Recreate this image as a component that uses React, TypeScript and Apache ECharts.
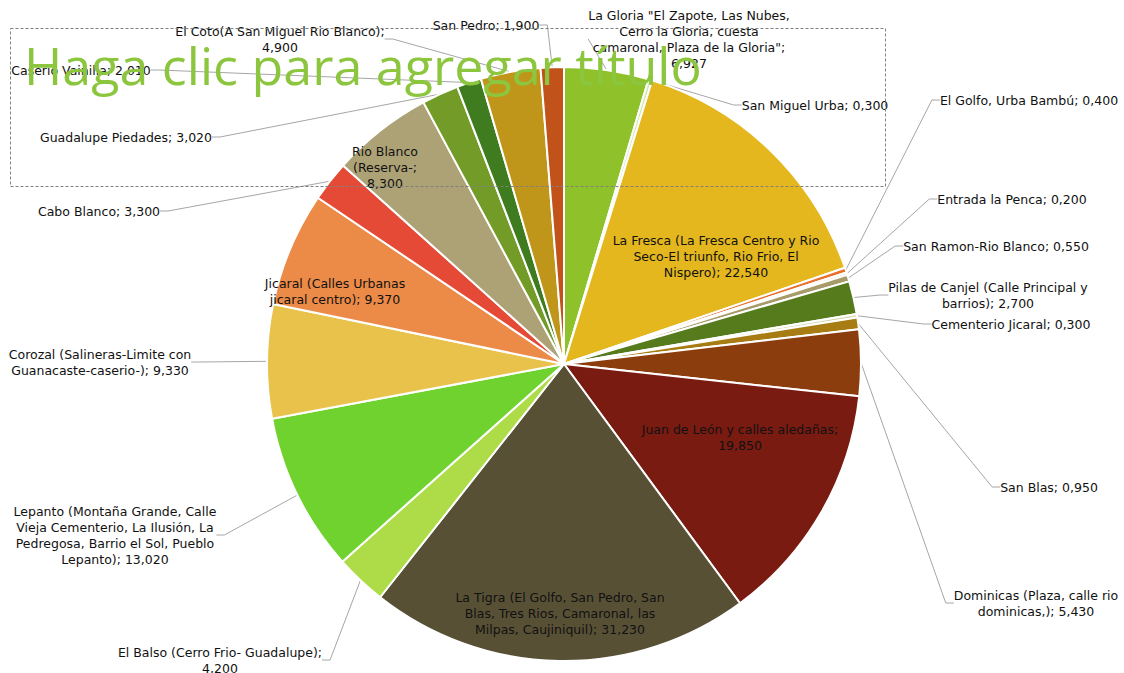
import React, { useEffect, useRef } from "react";
import * as echarts from "echarts";

// Slice names (line breaks as in the reference labels), clockwise from 12 o'clock
const names: string[] = [
  'La Gloria "El Zapote, Las Nubes,\nCerro la Gloria, cuesta\ncamaronal, Plaza de la Gloria"',
  "San Miguel Urba",
  "La Fresca (La Fresca Centro y Rio\nSeco-El triunfo, Rio Frio, El\nNispero)",
  "El Golfo, Urba Bambú",
  "Entrada la Penca",
  "San Ramon-Rio Blanco",
  "Pilas de Canjel (Calle Principal y\nbarrios)",
  "Cementerio Jicaral",
  "San Blas",
  "Dominicas (Plaza, calle rio\ndominicas,)",
  "Juan de León y calles aledañas",
  "La Tigra (El Golfo, San Pedro, San\nBlas, Tres Rios, Camaronal, las\nMilpas, Caujiniquil)",
  "El Balso (Cerro Frio- Guadalupe)",
  "Lepanto (Montaña Grande, Calle\nVieja Cementerio, La Ilusión, La\nPedregosa, Barrio el Sol, Pueblo\nLepanto)",
  "Corozal (Salineras-Limite con\nGuanacaste-caserio-)",
  "Jicaral (Calles Urbanas\njicaral centro)",
  "Cabo Blanco",
  "Rio Blanco\n(Reserva-",
  "Guadalupe Piedades",
  "Caserio Vainilla",
  "El Coto(A San Miguel Rio Blanco)",
  "San Pedro",
];

const values: number[] = [
  6.927, 0.3, 22.54, 0.4, 0.2, 0.55, 2.7, 0.3, 0.95, 5.43, 19.85, 31.23,
  4.2, 13.02, 9.33, 9.37, 3.3, 8.3, 3.02, 2.01, 4.9, 1.9,
];

// whether the value goes on its own line
const valueOnNewLine: boolean[] = [
  true, false, false, false, false, false, false, false, false, false, true, false,
  true, false, false, false, false, true, false, false, true, false,
];

const insideLabel: boolean[] = [
  false, false, true, false, false, false, false, false, false, false, true, true,
  false, false, false, true, false, true, false, false, false, false,
];

const colors: string[] = [
  "#8FC12B", "#CFE6A4", "#E4B71F", "#E8702C", "#F1E2C6", "#A89B6A",
  "#567B1C", "#D6D9B2", "#A77C13", "#8C3D0E", "#7A1B12", "#585035",
  "#ADDC48", "#70D22F", "#E9C24B", "#EC8A48", "#E44A36", "#ADA275",
  "#739B27", "#3E7C1F", "#C0961A", "#C1521A",
];

// label centre positions in px (layout)
const labelPos: [number, number][] = [
  [689, 39], [815, 105], [716, 256], [1029, 100], [1012, 199], [996, 246],
  [988, 295], [1011, 324], [1049, 487], [1036, 603], [740, 437], [560, 613],
  [220, 660], [115, 535], [100, 362], [335, 291], [99, 211], [385, 167],
  [126, 137], [81, 70], [280, 39], [486, 25],
];

const fmt = (v: number) => v.toFixed(3).replace(".", ",");

export default function App() {
  const ref = useRef<HTMLDivElement>(null);
  useEffect(() => {
    if (!ref.current) return;
    const chart = echarts.init(ref.current, undefined, { renderer: "svg" });
    const data = names.map((n, i) => ({
      name: n,
      value: values[i],
      itemStyle: { color: colors[i] },
      label: insideLabel[i] ? { position: "inside" } : { position: "outside" },
      labelLine: { show: !insideLabel[i] },
    }));
    chart.setOption({
      animation: false,
      graphic: [
        {
          type: "rect",
          z: 100,
          shape: { x: 10.5, y: 28.5, width: 875, height: 158 },
          style: { fill: "none", stroke: "#808080", lineWidth: 1, lineDash: [3, 2] },
          silent: true,
        },
        {
          type: "text",
          z: 101,
          x: 24,
          y: 64,
          style: {
            text: "Haga clic para agregar título",
            fill: "#8CC63E",
            font: "52px 'Open Sans'",
            verticalAlign: "middle",
            align: "left",
          },
          silent: true,
        },
      ],
      series: [
        {
          type: "pie",
          center: [564, 364],
          radius: [0, 297],
          startAngle: 90,
          clockwise: true,
          avoidLabelOverlap: false,
          itemStyle: { borderColor: "#FFFFFF", borderWidth: 2 },
          label: {
            show: true,
            fontFamily: "DejaVu Sans",
            fontSize: 12.5,
            lineHeight: 16,
            color: "#111111",
            align: "center",
            formatter: (p: any) =>
              p.name + (valueOnNewLine[p.dataIndex] ? ";\n" : "; ") + fmt(p.value),
          },
          labelLine: {
            show: true,
            length: 10,
            length2: 8,
            lineStyle: { color: "#A6A6A6", width: 1 },
          },
          labelLayout: (params: any) => {
            const p = labelPos[params.dataIndex];
            return { x: p[0], y: p[1], align: "center", verticalAlign: "middle" };
          },
          data,
        },
      ],
    });
    return () => chart.dispose();
  }, []);
  return (
    <div
      ref={ref}
      style={{ position: "fixed", left: 0, top: 0, width: 1124, height: 673, background: "#fff" }}
    />
  );
}
